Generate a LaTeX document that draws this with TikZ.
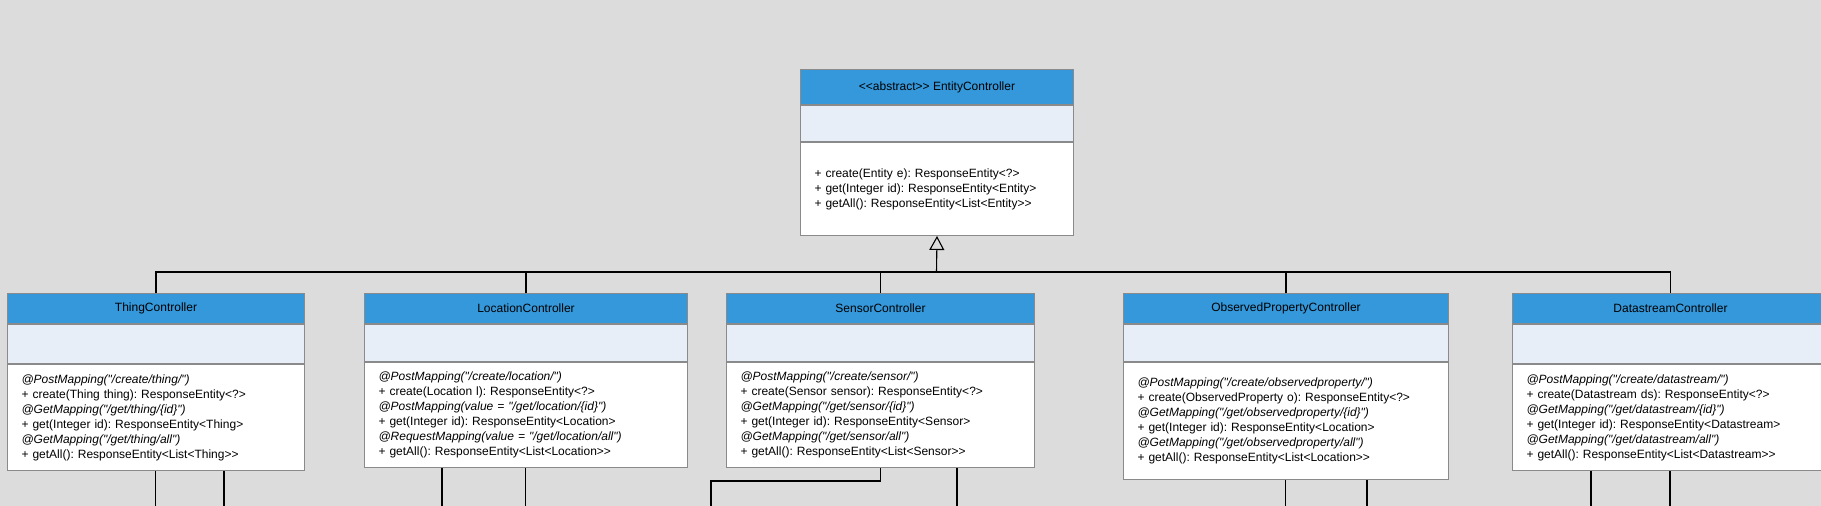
\documentclass[tikz,border=0pt]{standalone}
\usepackage{fontspec}
\newfontfamily\umlfont{Liberation Sans}
\usetikzlibrary{arrows.meta, positioning}
\definecolor{headblue}{RGB}{52,152,219}
\definecolor{attrblue}{RGB}{232,238,248}
\definecolor{boxgray}{RGB}{138,138,138}
\definecolor{canvas}{RGB}{220,220,220}
\newcommand*{\ann}[1]{\textit{#1}}
\frenchspacing
\tikzstyle{compartment} = [draw=boxgray, line width=1pt, rectangle, inner sep=0pt, font=\umlfont\fontsize{12}{15}\selectfont]
\tikzstyle{classhead} = [compartment, fill=headblue, minimum height=30pt]
\tikzstyle{classattrs} = [compartment, fill=attrblue]
\tikzstyle{classops} = [compartment, fill=white, align=left, inner xsep=14pt]
\tikzstyle{link} = [line width=1.1pt, black]
\tikzstyle{generalization} = [link, -{Triangle[open, length=14pt, width=15pt]}]

\begin{document}
\begin{tikzpicture}[x=1pt, y=-1pt]
    \useasboundingbox [fill=canvas] (0, 0) rectangle (1821, 506);

    % abstract parent
    \node (head entity) [classhead, minimum width=273pt, minimum height=35pt, anchor=north west] at (800, 69) {<<abstract>> EntityController};
    \node (attrs entity) [classattrs, minimum width=273pt, minimum height=36pt, below=0pt of head entity] {};
    \node (ops entity) [classops, text width=245pt, minimum height=93pt, below=0pt of attrs entity]
        {+ create(Entity e): ResponseEntity<?>\\
         + get(Integer id): ResponseEntity<Entity>\\
         + getAll(): ResponseEntity<List<Entity>>};

    % controllers: header and empty attribute compartment
    \foreach \name/\x/\w/\title/\h in {thing/7/297/ThingController/39, location/364/323/LocationController/37, sensor/726/308/SensorController/37, observed/1123/325/ObservedPropertyController/37, datastream/1512/316/DatastreamController/39} {
        \node (head \name) [classhead, minimum width=\w pt, anchor=north west] at (\x, 293) {\title};
        \node (attrs \name) [classattrs, minimum width=\w pt, minimum height=\h pt, below=0pt of head \name] {};
    }

    \node (ops thing) [classops, text width=269pt, minimum height=106pt, below=0pt of attrs thing]
        {\ann{@PostMapping("/create/thing/")}\\
         + create(Thing thing): ResponseEntity<?>\\
         \ann{@GetMapping("/get/thing/\{id\}")}\\
         + get(Integer id): ResponseEntity<Thing>\\
         \ann{@GetMapping("/get/thing/all")}\\
         + getAll(): ResponseEntity<List<Thing>>};
    \node (ops location) [classops, text width=295pt, minimum height=105pt, below=0pt of attrs location]
        {\ann{@PostMapping("/create/location/")}\\
         + create(Location l): ResponseEntity<?>\\
         \ann{@PostMapping(value = "/get/location/\{id\}")}\\
         + get(Integer id): ResponseEntity<Location>\\
         \ann{@RequestMapping(value = "/get/location/all")}\\
         + getAll(): ResponseEntity<List<Location>>};
    \node (ops sensor) [classops, text width=280pt, minimum height=105pt, below=0pt of attrs sensor]
        {\ann{@PostMapping("/create/sensor/")}\\
         + create(Sensor sensor): ResponseEntity<?>\\
         \ann{@GetMapping("/get/sensor/\{id\}")}\\
         + get(Integer id): ResponseEntity<Sensor>\\
         \ann{@GetMapping("/get/sensor/all")}\\
         + getAll(): ResponseEntity<List<Sensor>>};
    \node (ops observed) [classops, text width=297pt, minimum height=117pt, below=0pt of attrs observed]
        {\ann{@PostMapping("/create/observedproperty/")}\\
         + create(ObservedProperty o): ResponseEntity<?>\\
         \ann{@GetMapping("/get/observedproperty/\{id\}")}\\
         + get(Integer id): ResponseEntity<Location>\\
         \ann{@GetMapping("/get/observedproperty/all")}\\
         + getAll(): ResponseEntity<List<Location>>};
    \node (ops datastream) [classops, text width=288pt, minimum height=106pt, below=0pt of attrs datastream]
        {\ann{@PostMapping("/create/datastream/")}\\
         + create(Datastream ds): ResponseEntity<?>\\
         \ann{@GetMapping("/get/datastream/\{id\}")}\\
         + get(Integer id): ResponseEntity<Datastream>\\
         \ann{@GetMapping("/get/datastream/all")}\\
         + getAll(): ResponseEntity<List<Datastream>>};

    % inheritance
    \coordinate (bus) at (936.5, 272);
    \draw [generalization] (bus) -- (ops entity.south);
    \foreach \name in {thing, location, sensor, observed, datastream} {
        \draw [link] (head \name.north) |- (bus);
    }

    % links leaving the picture
    \foreach \name/\x in {thing/155.5, thing/224, location/442, location/525.5, sensor/957, observed/1285.5, observed/1367, datastream/1591, datastream/1670} {
        \coordinate (end) at (\x, 520);
        \draw [link] (ops \name.south -| end) -- (end);
    }
    \coordinate (sensor end) at (711, 520);
    \draw [link] (ops sensor.south) -- ++(0, 13) -| (sensor end);
\end{tikzpicture}
\end{document}
